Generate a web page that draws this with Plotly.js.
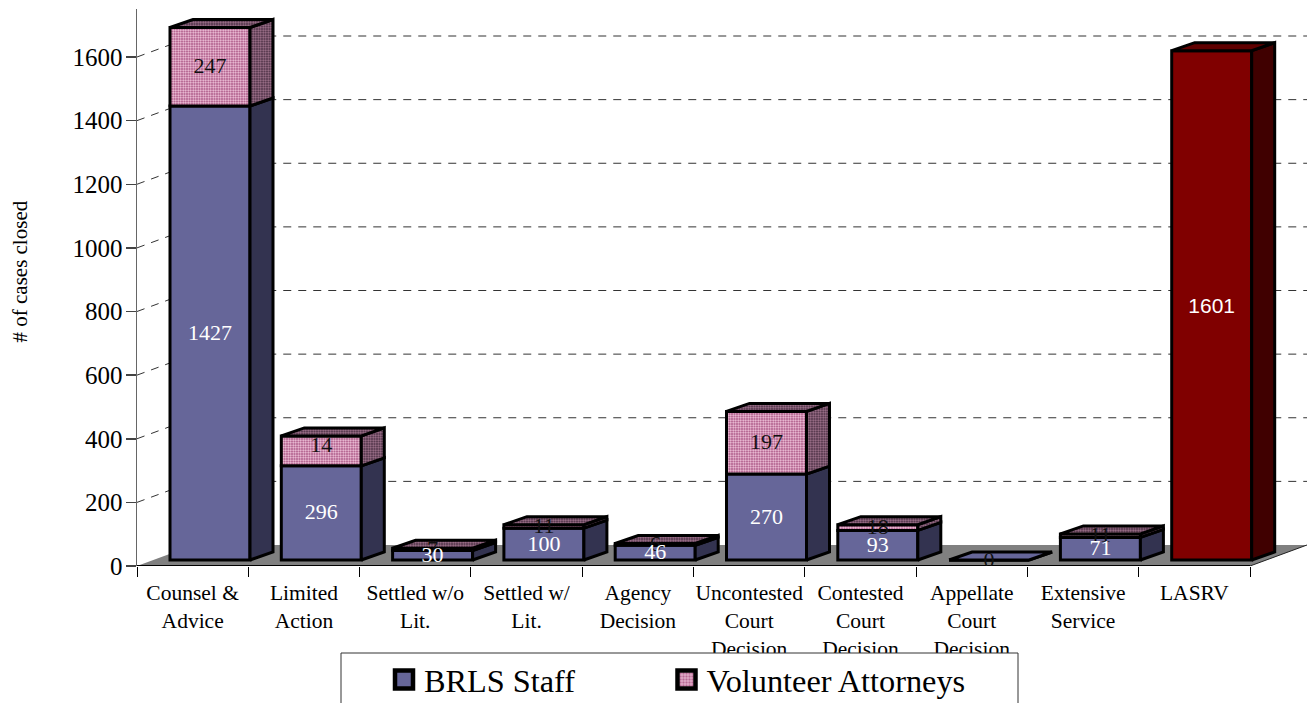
<!DOCTYPE html>
<html><head><meta charset="utf-8">
<script src="https://cdn.plot.ly/plotly-3.0.1.min.js"></script>
<style>html,body{margin:0;padding:0;background:#fff;overflow:hidden}#c{width:1307px;height:703px}</style>
</head><body><div id="c"></div>
<script>
const categories = ["Counsel &\nAdvice","Limited\nAction","Settled w/o\nLit.","Settled w/\nLit.","Agency\nDecision","Uncontested\nCourt\nDecision","Contested\nCourt\nDecision","Appellate\nCourt\nDecision","Extensive\nService","LASRV"];
const brlsStaff = [1427,296,30,100,46,270,93,0,71,null];
const volunteerHeight = [247,94,7,11,6,197,18,0,11,null];
const volunteerLabels = ["247","14","7","11","6","197","18","0","11",""];
const brlsLabels = ["1427","296","30","100","46","270","93","","71",""];
const lasrv = [null,null,null,null,null,null,null,null,null,1601];
const yTicks = [0,200,400,600,800,1000,1200,1400,1600];
const gridLevels = [200,400,600,800,1000,1200,1400,1600];

// Pixel geometry of the oblique projection, converted to data units.
const L=137,R=0,T=9,B=137,W=1307,H=703, pxX=111.3, pxY=0.318125;
const ux=p=>p/pxX, uy=p=>p/pxY;
const xMax=ux(W-L), yMax=uy(H-B-T);
const wallDx=ux(57), wallDy=uy(21);
const barOff=ux(33), barW=ux(80), sideDx=ux(23), sideDy=uy(8), base0=uy(6);
const n=categories.length;
const labelDrop=uy(1), label14Lift=uy(5);

function seg(){return {x:[],y:[]};}
function poly(s,pts){pts.forEach(p=>{s.x.push(p[0]);s.y.push(p[1]);});s.x.push(pts[0][0],null);s.y.push(pts[0][1],null);}
function sideFace(s,i,a,b){const r=i+barOff+barW;poly(s,[[r,a],[r+sideDx,a+sideDy],[r+sideDx,b+sideDy],[r,b]]);}
function topFace(s,i,a){const l=i+barOff,r=l+barW;poly(s,[[l,a],[r,a],[r+sideDx,a+sideDy],[l+sideDx,a+sideDy]]);}

const blueSide=seg(),pinkSide=seg(),redSide=seg(),blueTop=seg(),pinkTop=seg(),redTop=seg();
const xc=[],blueBase=[],pinkBase=[],redBase=[];
const lbX=[],lbY=[],lbT=[],lpX=[],lpY=[],lpT=[];
for(let i=0;i<n;i++){
  const c=i+barOff+barW/2; xc.push(c);
  redBase.push(base0); blueBase.push(base0);
  if(lasrv[i]!=null){ pinkBase.push(base0); sideFace(redSide,i,base0,base0+lasrv[i]); topFace(redTop,i,base0+lasrv[i]); continue; }
  const t1=base0+brlsStaff[i], t2=t1+volunteerHeight[i];
  pinkBase.push(t1);
  sideFace(blueSide,i,base0,t1);
  if(volunteerHeight[i]>0){ sideFace(pinkSide,i,t1,t2); topFace(pinkTop,i,t2);} else topFace(blueTop,i,t1);
  if(brlsLabels[i]){lbX.push(c);lbY.push(base0+brlsStaff[i]/2-labelDrop);lbT.push(brlsLabels[i]);}
  if(volunteerLabels[i]){lpX.push(c);lpY.push(t1+volunteerHeight[i]/2-labelDrop+(volunteerLabels[i]==="14"?label14Lift:0));lpT.push(volunteerLabels[i]);}
}
const blue="#666699",blueD="#333350",red="#800000",redD="#400000",redT="#600000";
const pinkPat={shape:".",bgcolor:"#a04578",fgcolor:"#f8d0e4",size:2.5,solidity:0.5};
const pinkPatD={shape:".",bgcolor:"#40263a",fgcolor:"#a87a94",size:2.5,solidity:0.5};
const serif="'Liberation Serif','Times New Roman',serif";
const edge={color:"#000",width:3};
function face(s,color,pat){const o={type:"scatter",mode:"lines",x:s.x,y:s.y,fill:"toself",fillcolor:color,line:{color:"#000",width:3},hoverinfo:"skip",showlegend:false};if(pat)o.fillpattern=pat;return o;}
function bar(name,y,base,color,pat,leg,legendId){const m={color:color,line:edge};if(pat)m.pattern=pat;const t={type:"bar",name:name,x:xc,y:y,base:base,width:barW,marker:m,showlegend:leg,hoverinfo:"skip"};if(legendId)t.legend=legendId;return t;}

const data=[
 bar("BRLS Staff",brlsStaff,blueBase,blue,null,true),
 bar("Volunteer Attorneys",volunteerHeight,pinkBase,"#a04578",pinkPat,true,"legend2"),
 bar("LASRV",lasrv,redBase,red,null,false),
 face(blueSide,blueD),face(blueTop,blue),face(pinkSide,"#40263a",pinkPatD),face(pinkTop,"#40263a",pinkPatD),face(redSide,redD),face(redTop,redT),
 {type:"scatter",mode:"text",x:lpX,y:lpY,text:lpT,textposition:"middle center",textfont:{family:serif,size:22,color:"#111"},showlegend:false,hoverinfo:"skip"},
 {type:"scatter",mode:"text",x:lbX,y:lbY,text:lbT,textposition:"middle center",textfont:{family:serif,size:22,color:"#fff"},showlegend:false,hoverinfo:"skip"},
 {type:"scatter",mode:"text",x:[xc[9]],y:[base0+lasrv[9]/2-uy(2)],text:["1601"],textposition:"middle center",textfont:{family:"'Liberation Sans',Arial,sans-serif",size:21,color:"#fff"},showlegend:false,hoverinfo:"skip"}
];

const shapes=[
 {type:"path",layer:"below",xref:"x",yref:"y",path:`M0,0 L10,0 L${10+wallDx},${wallDy} L${wallDx},${wallDy} Z`,fillcolor:"#808080",line:{width:0}},
 {type:"line",layer:"below",xref:"x",yref:"y",x0:0,y0:0,x1:10,y1:0,line:{color:"#000",width:2}},
 {type:"line",layer:"below",xref:"x",yref:"y",x0:10,y0:0,x1:10+wallDx,y1:wallDy,line:{color:"#222",width:1}},
 {type:"rect",layer:"above",xref:"paper",yref:"paper",x0:(341-L)/(W-L),x1:(1018-L)/(W-L),y0:-(713-566)/(566-T),y1:-(653-566)/(566-T),fillcolor:"#fff",line:{color:"#333",width:1}}
];
gridLevels.forEach(v=>shapes.push({type:"path",layer:"below",xref:"x",yref:"y",path:`M0,${v} L${wallDx},${v+wallDy} L${xMax},${v+wallDy}`,line:{color:"#333",width:1,dash:"8px,7px"}}));

const tickText=categories.map(c=>c.split("\n").join("<br>"));
const legendBase={orientation:"h",xanchor:"left",y:-(652-566)/(566-T),yanchor:"top",font:{family:serif,size:32.3,color:"#000"},bgcolor:"rgba(0,0,0,0)",borderwidth:0};
const layout={
 width:W,height:H,paper_bgcolor:"#fff",plot_bgcolor:"#fff",
 margin:{l:L,r:R,t:T,b:B,pad:0,autoexpand:false},
 barmode:"overlay",bargap:0,
 font:{family:serif,color:"#000"},
 showlegend:true,
 legend:Object.assign({},legendBase,{x:(384-L)/(W-L)}),
 legend2:Object.assign({},legendBase,{x:(666.5-L)/(W-L)}),
 xaxis:{type:"linear",range:[0,xMax],tickmode:"array",tickvals:categories.map((c,i)=>i+0.5),ticktext:tickText,tickangle:0,
   ticks:"outside",ticklen:7,tickcolor:"rgba(0,0,0,0)",tickfont:{family:serif,size:21.5,color:"#000"},showgrid:false,zeroline:false,showline:false,
   minor:{tickmode:"array",tickvals:categories.map((c,i)=>i).concat([n]),ticks:"outside",ticklen:10,tickcolor:"#000",tickwidth:1,showgrid:false},fixedrange:true},
 yaxis:{range:[0,yMax],tickmode:"array",tickvals:yTicks,ticks:"outside",ticklen:10,ticklabelstandoff:-2,tickcolor:"#444",tickwidth:1.5,tickfont:{family:serif,size:25,color:"#000"},
   showline:true,linecolor:"#666",linewidth:1.5,showgrid:false,zeroline:false,automargin:false,fixedrange:true},
 annotations:[{text:"# of cases closed",textangle:-90,xref:"paper",yref:"paper",x:(19-L)/(W-L),y:(566-271.5)/(566-T),xanchor:"center",yanchor:"middle",showarrow:false,font:{family:serif,size:21,color:"#000"}}],
 shapes:shapes
};
Plotly.newPlot("c",data,layout,{displayModeBar:false,staticPlot:true}).then(gd=>{
 gd.querySelectorAll(".legendbar path, .legendpoints path").forEach(p=>{
   const tr=p.getAttribute("transform")||""; p.setAttribute("transform",tr+" scale(1.5)");
 });
});
</script></body></html>
